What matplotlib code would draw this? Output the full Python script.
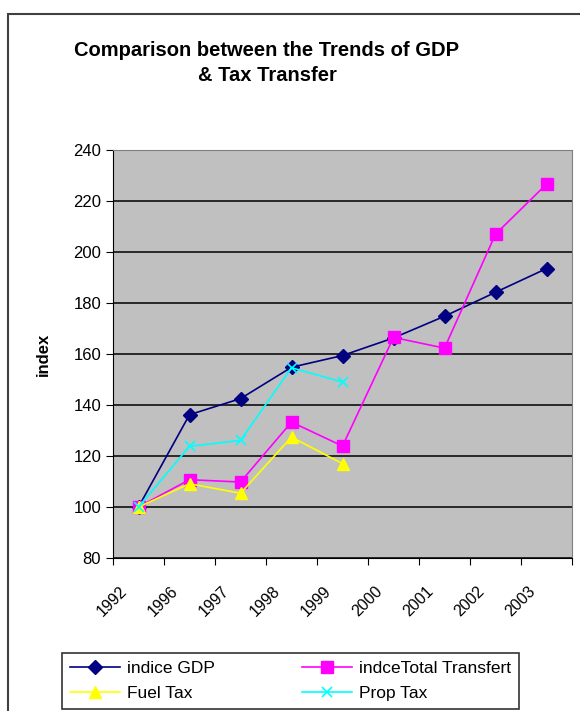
import numpy as np
import matplotlib.pyplot as plt
from matplotlib.patches import Rectangle
from matplotlib.transforms import ScaledTranslation

years = ["1992", "1996", "1997", "1998", "1999", "2000", "2001", "2002", "2003"]
gdp = [100, 136.2, 142.5, 154.8, 159.4, 166.3, 174.8, 184.2, 193.5]
total_transfer = [100, 110.7, 109.8, 133.3, 123.9, 166.5, 162.3, 207.0, 226.6]
fuel_tax = [100, 109.1, 105.4, 127.4, 117.0]
prop_tax = [100, 123.8, 126.1, 154.6, 149.0]

plt.rcParams['font.family'] = ['Liberation Sans', 'DejaVu Sans']

fig = plt.figure(figsize=(5.8, 7.11), dpi=100)
ax = fig.add_axes([113/580, 153/711, 459/580, 408/711])

x = np.arange(len(years))
l1, = ax.plot(x, gdp, color='#000080', marker='D', markersize=7, lw=1.2, label='indice GDP')
l2, = ax.plot(x, total_transfer, color='#FF00FF', marker='s', markersize=8, lw=1.2,
              label='indceTotal Transfert')
l3, = ax.plot(x[:len(fuel_tax)], fuel_tax, color='#FFFF00', marker='^', markersize=8.5,
              lw=1.2, label='Fuel Tax')
l4, = ax.plot(x[:len(prop_tax)], prop_tax, color='#00FFFF', marker='x', markersize=7.5,
              markeredgewidth=1.2, lw=1.2, label='Prop Tax')

ax.set_facecolor('#C0C0C0')
ax.set_xlim(-0.5, len(years) - 0.5)
ax.set_ylim(80, 240)
ax.set_yticks(np.arange(80, 241, 20))
ax.grid(axis='y', color='black', lw=1.1)
ax.set_axisbelow(True)
ax.tick_params(axis='y', labelsize=12, length=5, direction='out')

# category style axis: tick marks between categories, labels at centers
ax.set_xticks(np.arange(-0.5, len(years), 1))
ax.set_xticklabels([])
ax.set_xticks(x, minor=True)
ax.set_xticklabels(years, minor=True, rotation=45, ha='center', va='center',
                   rotation_mode='anchor', fontsize=11.5)
ax.tick_params(axis='x', which='major', length=5, direction='out')
ax.tick_params(axis='x', which='minor', length=0, pad=31)
shift = ScaledTranslation(-0.26, 0, fig.dpi_scale_trans)
for lbl in ax.get_xticklabels(minor=True):
    lbl.set_transform(lbl.get_transform() + shift)

for s in ['top', 'right']:
    ax.spines[s].set_color('#808080')
for s in ['left', 'bottom']:
    ax.spines[s].set_color('black')

ax.set_ylabel('index', fontsize=12, fontweight='bold', labelpad=16)

fig.text(267/580, 1 - 63/711, 'Comparison between the Trends of GDP\n& Tax Transfer',
         ha='center', va='center', fontsize=14.5, fontweight='bold', linespacing=1.45)

leg = fig.legend([l1, l3, l2, l4], ['indice GDP', 'Fuel Tax', 'indceTotal Transfert', 'Prop Tax'],
                 loc='lower left', bbox_to_anchor=(62/580, 2/711), ncol=2, fontsize=12.5,
                 handlelength=2.9, frameon=True, fancybox=False, edgecolor='black',
                 borderaxespad=0, borderpad=0.45, columnspacing=5.0,
                 labelspacing=0.6, handletextpad=0.4)
leg.get_frame().set_linewidth(1.2)

fig.patches.append(Rectangle((8/580, -0.02), 1.0, (711-14)/711 + 0.02,
                             transform=fig.transFigure, fill=False,
                             edgecolor='#404040', lw=1.5))

fig.savefig('out.png', dpi=100)
